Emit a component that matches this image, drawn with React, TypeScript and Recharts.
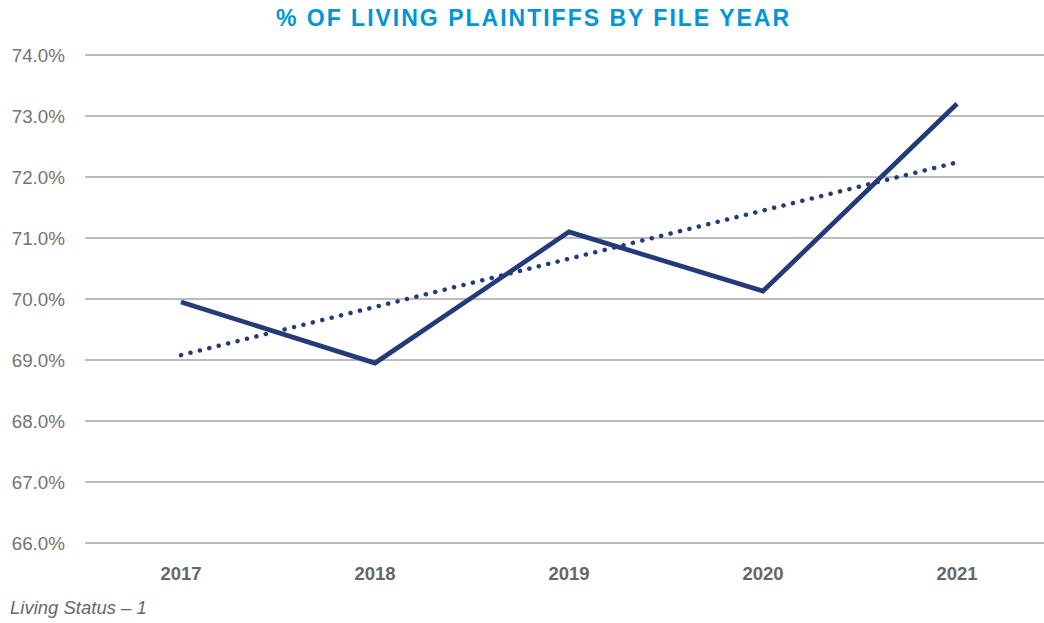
import React from "react";
import { LineChart, Line, XAxis, YAxis, CartesianGrid } from "recharts";

const years = ["2017", "2018", "2019", "2020", "2021"];
const livingPct = [69.95, 68.95, 71.1, 70.13, 73.2];
const trendPct = [69.08, 69.87, 70.66, 71.45, 72.24];
const yTicks = [66, 67, 68, 69, 70, 71, 72, 73, 74];

const data = years.map((y, i) => ({ year: y, living: livingPct[i], trend: trendPct[i] }));

export default function App() {
  return (
    <div style={{ position: "absolute", left: 0, top: 0, width: 1044, height: 623, background: "#fff", fontFamily: "Arial, 'Liberation Sans', sans-serif" }}>
      <div style={{ position: "absolute", top: 4, left: 0, width: 1067, textAlign: "center", color: "#0096D6", fontWeight: 700, fontSize: 23, letterSpacing: 2, lineHeight: "28px" }}>
        % OF LIVING PLAINTIFFS BY FILE YEAR
      </div>
      <LineChart width={1044} height={623} data={data} margin={{ top: 55, right: 0, bottom: 50, left: 0 }}>
        <CartesianGrid vertical={false} stroke="#A6A6A6" strokeWidth={1.3} />
        <XAxis
          dataKey="year"
          axisLine={false}
          tickLine={false}
          tickSize={0}
          tickMargin={24}
          padding={{ left: 96, right: 87 }}
          tick={{ fill: "#666666", fontSize: 18.5, fontWeight: 700 }}
          interval={0}
        />
        <YAxis
          domain={[66, 74]}
          ticks={yTicks}
          width={85}
          axisLine={false}
          tickLine={false}
          tickSize={0}
          tickMargin={20}
          tickFormatter={(v: number) => v.toFixed(1) + "%"}
          tick={{ fill: "#737373", fontSize: 18.8 }}
          interval={0}
        />
        <Line dataKey="trend" stroke="#253A78" strokeWidth={4.5} strokeDasharray="0.1 9.6" strokeLinecap="round" dot={false} isAnimationActive={false} />
        <Line dataKey="living" stroke="#253A78" strokeWidth={4.7} dot={false} isAnimationActive={false} strokeLinejoin="miter" />
      </LineChart>
      <div style={{ position: "absolute", left: 10, top: 597, color: "#666666", fontStyle: "italic", fontSize: 18.5, lineHeight: "22px" }}>
        Living Status – 1
      </div>
    </div>
  );
}
